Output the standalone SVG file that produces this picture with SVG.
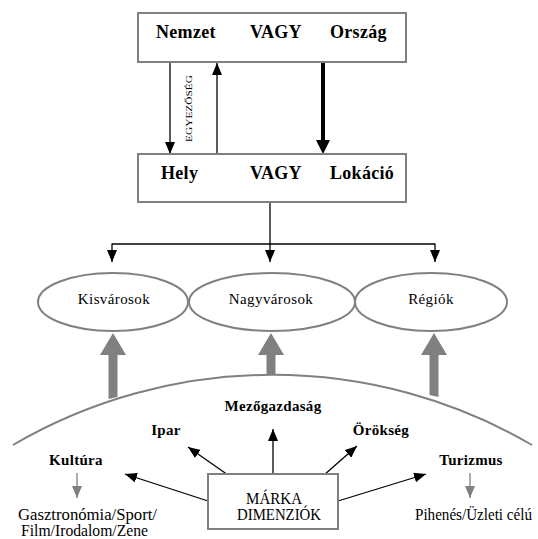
<svg xmlns="http://www.w3.org/2000/svg" width="538" height="539" viewBox="0 0 538 539">
  <style>
    .box { fill: #ffffff; stroke: #808080; stroke-width: 2; }
    .oval { fill: #ffffff; stroke: #808080; stroke-width: 2; }
    .head { font-family: "Liberation Serif", "Times New Roman", serif; font-weight: bold; font-size: 18px; letter-spacing: 0.3px; fill: #000; }
    .dim { font-family: "Liberation Serif", "Times New Roman", serif; font-weight: bold; font-size: 15px; letter-spacing: 0.3px; fill: #000; }
    .reg { font-family: "Liberation Serif", "Times New Roman", serif; font-size: 15px; letter-spacing: 0.4px; fill: #000; }
    .small { font-family: "Liberation Serif", "Times New Roman", serif; font-size: 16px; fill: #000; }
    .brand { font-family: "Liberation Serif", "Times New Roman", serif; font-size: 16px; fill: #000; }
    .tiny { font-family: "Liberation Serif", "Times New Roman", serif; font-size: 9px; fill: #000; }
    .thin { stroke: #000; stroke-width: 1.3; fill: none; }
    .thinGray { stroke: #808080; stroke-width: 1.3; fill: none; }
    .grayFill { fill: #808080; }
  </style>
  <defs>
    <marker id="arrowBlack" viewBox="0 0 12 10" markerUnits="userSpaceOnUse" markerWidth="12" markerHeight="10" refX="12" refY="5" orient="auto">
      <path d="M0,0 L12,5 L0,10 z" fill="#000"/>
    </marker>
    <marker id="arrowGray" viewBox="0 0 12 10" markerUnits="userSpaceOnUse" markerWidth="12" markerHeight="10" refX="12" refY="5" orient="auto">
      <path d="M0,0 L12,5 L0,10 z" fill="#808080"/>
    </marker>
  </defs>

  <!-- base arc -->
  <path d="M13,445 A515,515 0 0 1 532,445" fill="none" stroke="#808080" stroke-width="2"/>

  <g id="connectors">
    <!-- between the two top boxes -->
    <line class="thin" x1="170" y1="63" x2="170" y2="154" marker-end="url(#arrowBlack)"/>
    <line class="thin" x1="217" y1="154" x2="217" y2="63" marker-end="url(#arrowBlack)"/>
    <text class="tiny" transform="translate(192,142) rotate(-90)" textLength="67" lengthAdjust="spacingAndGlyphs">EGYEZŐSÉG</text>
    <path d="M321,63 L325,63 L325,140 L330,140 L323,154 L316,140 L321,140 z" fill="#000"/>

    <!-- fan-out to the ovals -->
    <line class="thin" x1="270" y1="202" x2="270" y2="244"/>
    <line class="thin" x1="112" y1="244" x2="435" y2="244"/>
    <line class="thin" x1="112" y1="243.5" x2="112" y2="262" marker-end="url(#arrowBlack)"/>
    <line class="thin" x1="270" y1="243.5" x2="270" y2="262" marker-end="url(#arrowBlack)"/>
    <line class="thin" x1="435" y1="243.5" x2="435" y2="262" marker-end="url(#arrowBlack)"/>

    <!-- thick gray arrows rising from the arc -->
    <path class="grayFill" d="M108.5,399 L108.5,355 L100,355 L113,333 L126,355 L117.5,355 L117.5,397 z"/>
    <path class="grayFill" d="M266.5,375 L266.5,355 L258,355 L271,333 L284,355 L275.5,355 L275.5,375 z"/>
    <path class="grayFill" d="M429.5,395 L429.5,355 L421,355 L434,333 L447,355 L438.5,355 L438.5,397 z"/>

    <!-- brand dimensions -->
    <line class="thin" x1="208" y1="501" x2="125" y2="474" marker-end="url(#arrowBlack)"/>
    <line class="thin" x1="228" y1="475" x2="188" y2="447" marker-end="url(#arrowBlack)"/>
    <line class="thin" x1="273" y1="475" x2="273" y2="429" marker-end="url(#arrowBlack)"/>
    <line class="thin" x1="324" y1="475" x2="357" y2="446" marker-end="url(#arrowBlack)"/>
    <line class="thin" x1="338" y1="501" x2="426" y2="474" marker-end="url(#arrowBlack)"/>

    <!-- sub-dimensions -->
    <line class="thinGray" x1="77" y1="473" x2="77" y2="498" marker-end="url(#arrowGray)"/>
    <line class="thinGray" x1="470" y1="473" x2="470" y2="498" marker-end="url(#arrowGray)"/>
  </g>

  <g id="nemzet">
    <rect class="box" x="138" y="13" width="268" height="49"/>
    <text class="head" x="156" y="38">Nemzet</text>
    <text class="head" x="250" y="38">VAGY</text>
    <text class="head" x="330" y="38">Ország</text>
  </g>

  <g id="hely">
    <rect class="box" x="138" y="154" width="268" height="48"/>
    <text class="head" x="161" y="179">Hely</text>
    <text class="head" x="250" y="179">VAGY</text>
    <text class="head" x="330" y="179">Lokáció</text>
  </g>

  <g id="kisvarosok">
    <ellipse class="oval" cx="113" cy="302" rx="75" ry="29"/>
    <text class="reg" x="114" y="304" text-anchor="middle">Kisvárosok</text>
  </g>
  <g id="nagyvarosok">
    <ellipse class="oval" cx="272" cy="302" rx="83" ry="29"/>
    <text class="reg" x="271" y="304" text-anchor="middle">Nagyvárosok</text>
  </g>
  <g id="regiok">
    <ellipse class="oval" cx="431" cy="302" rx="76" ry="29"/>
    <text class="reg" x="431" y="304" text-anchor="middle">Régiók</text>
  </g>

  <g id="marka">
    <rect class="box" x="208" y="474" width="130" height="55"/>
    <text class="brand" x="246" y="504" textLength="56" lengthAdjust="spacingAndGlyphs">MÁRKA</text>
    <text class="brand" x="237" y="520" textLength="84" lengthAdjust="spacingAndGlyphs">DIMENZIÓK</text>
  </g>

  <g id="mezogazdasag"><text class="dim" x="273" y="411" text-anchor="middle">Mezőgazdaság</text></g>
  <g id="ipar"><text class="dim" x="166" y="435" text-anchor="middle">Ipar</text></g>
  <g id="orokseg"><text class="dim" x="381" y="435" text-anchor="middle">Örökség</text></g>
  <g id="kultura"><text class="dim" x="76" y="465" text-anchor="middle">Kultúra</text></g>
  <g id="turizmus"><text class="dim" x="471" y="465" text-anchor="middle">Turizmus</text></g>

  <g id="kultura-sub">
    <text class="small" x="18" y="520" textLength="139" lengthAdjust="spacingAndGlyphs">Gasztronómia/Sport/</text>
    <text class="small" x="21" y="536" textLength="127" lengthAdjust="spacingAndGlyphs">Film/Irodalom/Zene</text>
  </g>
  <g id="turizmus-sub">
    <text class="small" x="415" y="520" textLength="117" lengthAdjust="spacingAndGlyphs">Pihenés/Üzleti célú</text>
  </g>
</svg>
